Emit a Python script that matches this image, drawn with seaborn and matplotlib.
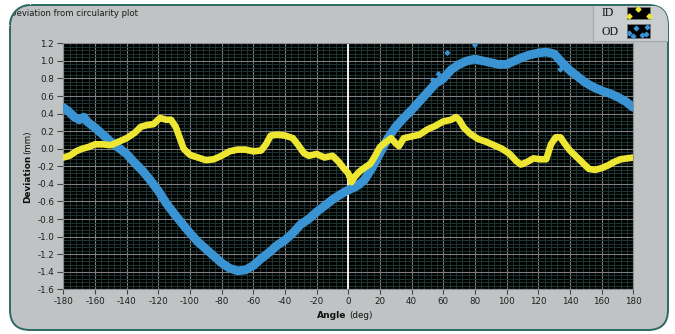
import matplotlib
matplotlib.use("Agg")
import matplotlib.pyplot as plt
from matplotlib.patches import FancyBboxPatch, Rectangle, Polygon
from matplotlib.ticker import AutoMinorLocator
import seaborn as sns
import numpy as np

# ---------------- data ----------------
od_angle = [-180, -177, -173, -170, -167, -165, -160, -155, -150, -145, -140, -135,
            -130, -125, -120, -115, -110, -105, -100, -95, -90, -85, -80, -75,
            -70, -65, -60, -55, -50, -45, -40, -35, -30, -25, -20, -15, -10, -5,
            0, 5, 10, 15, 20, 25, 30, 35, 40, 45, 50, 55, 60, 65, 70, 75, 80,
            85, 90, 95, 100, 105, 110, 115, 120, 125, 130, 135, 140, 145, 150,
            155, 160, 165, 170, 175, 180]
od_dev = [0.47, 0.43, 0.36, 0.33, 0.36, 0.31, 0.24, 0.16, 0.08, 0.01, -0.06, -0.16,
          -0.25, -0.36, -0.48, -0.62, -0.74, -0.85, -0.96, -1.06, -1.14, -1.22, -1.30, -1.36,
          -1.39, -1.38, -1.33, -1.25, -1.18, -1.10, -1.04, -0.96, -0.86, -0.80, -0.72, -0.65, -0.58, -0.52,
          -0.47, -0.43, -0.36, -0.22, -0.05, 0.12, 0.25, 0.35, 0.44, 0.54, 0.64, 0.74, 0.80, 0.90, 0.96, 1.00, 1.02,
          1.00, 0.98, 0.96, 0.96, 1.00, 1.04, 1.07, 1.09, 1.10, 1.08, 0.98, 0.89, 0.82, 0.75,
          0.70, 0.66, 0.63, 0.59, 0.54, 0.47]
od_out_angle = [62.6, 80.0, 53.5, 57.0, 134.0]
od_out_dev = [1.09, 1.18, 0.78, 0.85, 0.90]

id_angle = [-180, -176, -172, -168, -164, -160, -155, -150, -145, -140, -135, -131,
            -127, -123, -119, -115, -112, -109, -106, -104, -100, -95, -90, -85,
            -80, -75, -70, -65, -60, -55, -52, -49, -45, -40, -35, -32, -28, -25,
            -20, -15, -10, -6, -3, 0, 2, 4, 7, 10, 14, 17, 20, 24, 27, 30, 32,
            35, 40, 45, 50, 55, 60, 65, 68, 70, 73, 77, 82, 87, 92, 97, 102,
            106, 109, 113, 117, 121, 125, 128, 131, 134, 137, 140, 144, 148, 152,
            156, 160, 164, 168, 172, 176, 180]
id_dev = [-0.10, -0.08, -0.03, 0.00, 0.02, 0.05, 0.05, 0.04, 0.08, 0.12, 0.18, 0.25,
          0.27, 0.28, 0.35, 0.33, 0.33, 0.25, 0.10, 0.00, -0.07, -0.10, -0.13, -0.12,
          -0.08, -0.03, -0.01, -0.01, -0.03, -0.02, 0.05, 0.15, 0.16, 0.15, 0.12, 0.05, -0.05, -0.08,
          -0.06, -0.10, -0.08, -0.15, -0.22, -0.28, -0.38, -0.32, -0.26, -0.22, -0.17, -0.08, 0.02, 0.08, 0.12, 0.06, 0.03,
          0.12, 0.14, 0.16, 0.22, 0.26, 0.31, 0.33, 0.36, 0.33, 0.24, 0.17, 0.11, 0.08, 0.04, 0.00, -0.06,
          -0.14, -0.18, -0.15, -0.11, -0.12, -0.12, 0.05, 0.13, 0.13, 0.05, -0.02, -0.09, -0.16, -0.23,
          -0.24, -0.22, -0.19, -0.15, -0.12, -0.11, -0.10]

x_ticks = list(range(-180, 181, 20))
y_ticks = [round(-1.6 + 0.2 * i, 1) for i in range(15)]

title_text = "Deviation from circularity plot"
series_names = ["ID", "OD"]

# ---------------- style ----------------
plt.rcParams['font.family'] = ['DejaVu Sans']
plt.rcParams['axes.unicode_minus'] = False

W, H = 675, 334
fig = plt.figure(figsize=(W / 100, H / 100), dpi=100)
fig.patch.set_facecolor('white')

# background panel drawn in pixel coordinates
bg = fig.add_axes([0, 0, 1, 1], zorder=0)
bg.set_xlim(0, W)
bg.set_ylim(H, 0)
bg.axis('off')

R = 20
border = '#2f6862'
panel = FancyBboxPatch((10, 5), 658, 325, boxstyle=f"round,pad=0,rounding_size={R}",
                       facecolor='#bfc3c3', edgecolor=border, linewidth=1.4, zorder=0)
bg.add_patch(panel)

# legend box region
leg_box = Rectangle((593, 5.5), 75, 36, facecolor='#c9cdcd', edgecolor='none', zorder=1)
bg.add_patch(leg_box)
leg_box.set_clip_path(panel)
bg.plot([593, 593], [5.5, 41], color='#a4a8a8', lw=0.8, zorder=1)
l2, = bg.plot([593, 668], [41, 41], color='#a4a8a8', lw=0.8, zorder=1)
l2.set_clip_path(panel)

# title (its first letter is cut by the rounded corner, as in the reference)
bg.text(10.2, 13, title_text, fontsize=6.1, color='#1a1a1a', ha='left', va='center', zorder=2)

# mask outside of the top-left rounded corner and redraw the border arc
cx, cy = 10 + R, 5 + R
th = np.linspace(np.pi * 1.5, np.pi, 30)
arc_x = cx + R * np.cos(th)
arc_y = cy + R * np.sin(th)
mask_pts = [(0, 0), (cx + 1, 0), (cx + 1, 5)] + list(zip(arc_x, arc_y)) + [(10, cy + 1), (0, cy + 1)]
bg.add_patch(Polygon(mask_pts, closed=True, facecolor='white', edgecolor='none', zorder=3))
bg.plot(arc_x, arc_y, color=border, lw=1.4, zorder=4, solid_capstyle='butt')

# legend text + swatches
yellow = '#ede632'
blue = '#3a94d4'
bg.text(602, 13.5, series_names[0], family='Liberation Serif', fontsize=8.5,
        color='#111111', ha='left', va='center')
bg.text(602, 32, series_names[1], family='Liberation Serif', fontsize=8.5,
        color='#111111', ha='left', va='center')
bg.add_patch(Rectangle((627, 7), 23, 12, facecolor='black', edgecolor='#777777', lw=0.6, zorder=2))
bg.add_patch(Rectangle((627, 24), 23, 14, facecolor='black', edgecolor='#777777', lw=0.6, zorder=2))
bg.scatter([638, 628.5, 648.5], [8.5, 15.5, 15.5], marker='D', s=6, color=yellow, zorder=3)
bg.scatter([629, 636, 642, 647, 633, 646], [33, 28, 35, 27, 36, 34], marker='D', s=5,
           color=blue, zorder=3)

# axis labels (mixed weight)
bg.text(28, 203, "Deviation", rotation=90, fontsize=6.4, fontweight='bold',
        color='#111111', ha='center', va='bottom')
bg.text(28, 154, "(mm)", rotation=90, fontsize=6.3, color='#111111',
        ha='center', va='bottom')
bg.text(346, 315, "Angle", fontsize=6.6, fontweight='bold', color='#111111',
        ha='right', va='center')
bg.text(349, 315, "(deg)", fontsize=6.3, color='#111111', ha='left', va='center')

# ---------------- main plot ----------------
ax = fig.add_axes([63.3 / W, 1 - 289.3 / H, 570 / W, 246 / H], zorder=1)
ax.set_facecolor('black')

sns.lineplot(x=od_angle, y=od_dev, color=blue, linewidth=6.3, ax=ax, sort=False,
             solid_capstyle='round', solid_joinstyle='round', zorder=3)
sns.scatterplot(x=od_out_angle, y=od_out_dev, color=blue, marker='D', s=10,
                edgecolor='none', ax=ax, zorder=3)
sns.lineplot(x=id_angle, y=id_dev, color=yellow, linewidth=4.8, ax=ax, sort=False,
             solid_capstyle='round', solid_joinstyle='round', zorder=4)

ax.axvline(0, color='white', linewidth=1.3, zorder=2)

ax.set_xlim(-180, 180)
ax.set_ylim(-1.6, 1.2)
ax.set_xticks(x_ticks)
ax.set_yticks(y_ticks)
ax.set_xticklabels([str(v) for v in x_ticks])
ax.set_yticklabels([f"{v:.1f}" for v in y_ticks])
ax.xaxis.set_minor_locator(AutoMinorLocator(5))
ax.yaxis.set_minor_locator(AutoMinorLocator(5))

ax.grid(which='minor', color='#1d3531', linewidth=0.7, zorder=0)
ax.grid(which='major', color='#7b7f7f', linewidth=0.8, zorder=1)
ax.set_axisbelow(True)

ax.tick_params(which='major', direction='out', length=3.5, width=0.8, color='#444444',
               labelsize=6.3, labelcolor='#1e1e1e', pad=2.4)
ax.tick_params(axis='y', which='major', length=4, pad=2.6)
ax.tick_params(which='minor', length=0)
ax.tick_params(top=False, right=False)
for s in ax.spines.values():
    s.set_color('#8a8e8e')
    s.set_linewidth(0.8)
ax.set_xlabel('')
ax.set_ylabel('')
leg = ax.get_legend()
if leg is not None:
    leg.remove()

fig.savefig('out.png', dpi=100, facecolor='white')
